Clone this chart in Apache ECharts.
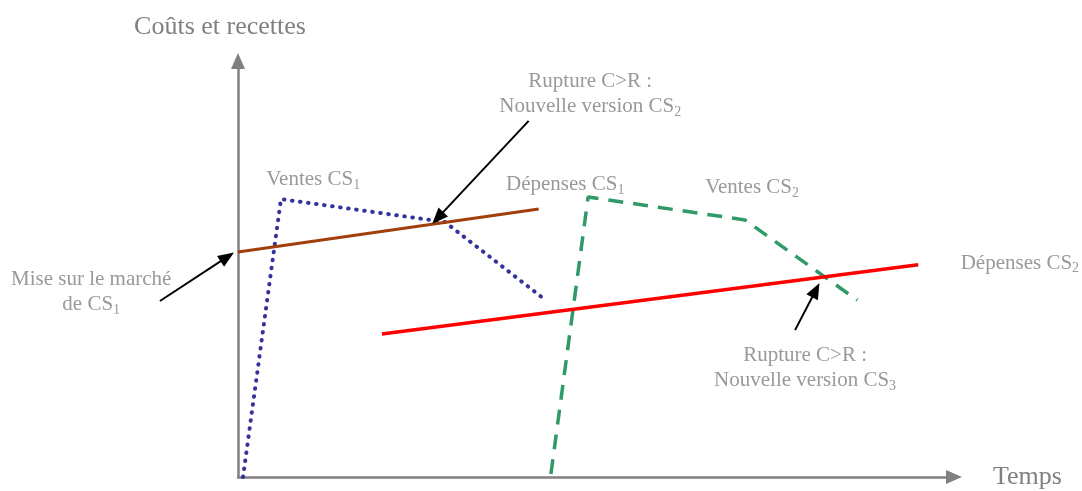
<!DOCTYPE html>
<html><head><meta charset="utf-8">
<script src="https://cdn.jsdelivr.net/npm/echarts@6/dist/echarts.min.js"></script>
<style>html,body{margin:0;padding:0;background:#fff}#c{width:1082px;height:491px}</style>
</head><body><div id="c"></div>
<script>
// ---- data (conceptual units: time 0..100, amount 0..100) ----
const ventesCS1   = [[0.7, 0], [6.0, 66.8], [28.9, 61.3], [42.6, 43.0]];
const depensesCS1 = [[0, 54.1], [42.0, 64.4]];
const ventesCS2   = [[43.7, 0.7], [48.9, 67.3], [70.8, 61.8], [86.5, 42.5]];
const depensesCS2 = [[20.1, 34.4], [95.0, 51.0]];

const arrowFrom = [[-10.9, 42.3], [40.6, 85.6], [77.8, 35.3]];
const arrowTo   = [[-1.5, 52.9], [27.9, 62.3], [80.7, 44.9]];

const labelTexts = [
  'Rupture C>R :\nNouvelle version CS{s|2}',
  'Ventes CS{s|1}',
  'Dépenses CS{s|1}',
  'Ventes CS{s|2}',
  'Dépenses CS{s|2}',
  'Mise sur le marché\nde CS{s|1}',
  'Rupture C>R :\nNouvelle version CS{s|3}'
];
const labelPos = [[49.2, 92.1], [10.5, 71.4], [45.7, 70.2], [71.8, 69.5], [109.2, 51.4], [-20.5, 44.5], [79.2, 26.2]];

const xTitle = 'Temps';
const yTitle = 'Coûts et recettes';

// ---- layout ----
const W = 1082, H = 491;
const G = {left: 238, top: 61, right: 128, bottom: 14};
const xMin = 0, xMax = 100, yMin = 0, yMax = 100;
const kx = (W - G.left - G.right) / (xMax - xMin);
const ky = (H - G.top - G.bottom) / (yMax - yMin);

const FONT = '"Liberation Serif", "Times New Roman", serif';
const GRAY = '#808080';

const chart = echarts.init(document.getElementById('c'), null, {renderer: 'canvas'});

const axisStyle = {
  type: 'value',
  axisTick: {show: false},
  axisLabel: {show: false},
  splitLine: {show: false},
  axisLine: {show: true, symbol: ['none', 'triangle'], symbolSize: [14, 16],
             lineStyle: {color: GRAY, width: 2.5}},
  nameTextStyle: {fontFamily: FONT, fontSize: 26, color: GRAY}
};

const option = {
  animation: false,
  backgroundColor: '#ffffff',
  grid: [
    {left: G.left, top: G.top, right: G.right, bottom: G.bottom},
    {left: 0, top: 0, right: 0, bottom: 0}
  ],
  xAxis: [
    Object.assign({}, axisStyle, {gridIndex: 0, min: xMin, max: xMax, name: xTitle,
      nameLocation: 'end', nameGap: 39}),
    {type: 'value', gridIndex: 1, show: false, min: xMin - G.left / kx, max: xMax + G.right / kx}
  ],
  yAxis: [
    Object.assign({}, axisStyle, {gridIndex: 0, min: yMin, max: yMax, name: yTitle,
      nameLocation: 'end', nameGap: 21,
      nameTextStyle: {fontFamily: FONT, fontSize: 26, color: GRAY, padding: [0, 36, 0, 0]}}),
    {type: 'value', gridIndex: 1, show: false, min: yMin - G.bottom / ky, max: yMax + G.top / ky}
  ],
  series: [
    {name: 'Ventes CS1', type: 'line', data: ventesCS1, symbol: 'none', silent: true,
     lineStyle: {color: '#333399', width: 4, type: [0.5, 7.6], cap: 'round'}},
    {name: 'Dépenses CS1', type: 'line', data: depensesCS1, symbol: 'none', silent: true,
     lineStyle: {color: '#a33f0b', width: 3}},
    {name: 'Ventes CS2', type: 'line', data: ventesCS2, symbol: 'none', silent: true,
     lineStyle: {color: '#2f9a68', width: 3.5, type: [15, 10]}},
    {name: 'Dépenses CS2', type: 'line', data: depensesCS2, symbol: 'none', silent: true,
     lineStyle: {color: '#ff0000', width: 3.5}},
    {name: 'annotations', type: 'scatter', xAxisIndex: 1, yAxisIndex: 1, silent: true,
     symbolSize: 0,
     data: labelPos.map((p, i) => ({value: p, name: labelTexts[i]})),
     label: {show: true, position: 'inside', align: 'center', verticalAlign: 'middle',
       formatter: p => p.name,
       fontFamily: FONT, fontSize: 21, color: GRAY, lineHeight: 25,
       rich: {s: {fontFamily: FONT, fontSize: 14, color: GRAY, lineHeight: 14, verticalAlign: 'bottom'}}}},
    {name: 'arrows', type: 'line', xAxisIndex: 1, yAxisIndex: 1, data: [], silent: true,
     markLine: {silent: true, symbol: ['none', 'triangle'], symbolSize: [13, 16],
       label: {show: false},
       lineStyle: {color: '#000000', width: 2, type: 'solid'},
       data: arrowFrom.map((f, i) => [{coord: f}, {coord: arrowTo[i]}])}}
  ]
};
chart.setOption(option);
</script>
</body></html>
